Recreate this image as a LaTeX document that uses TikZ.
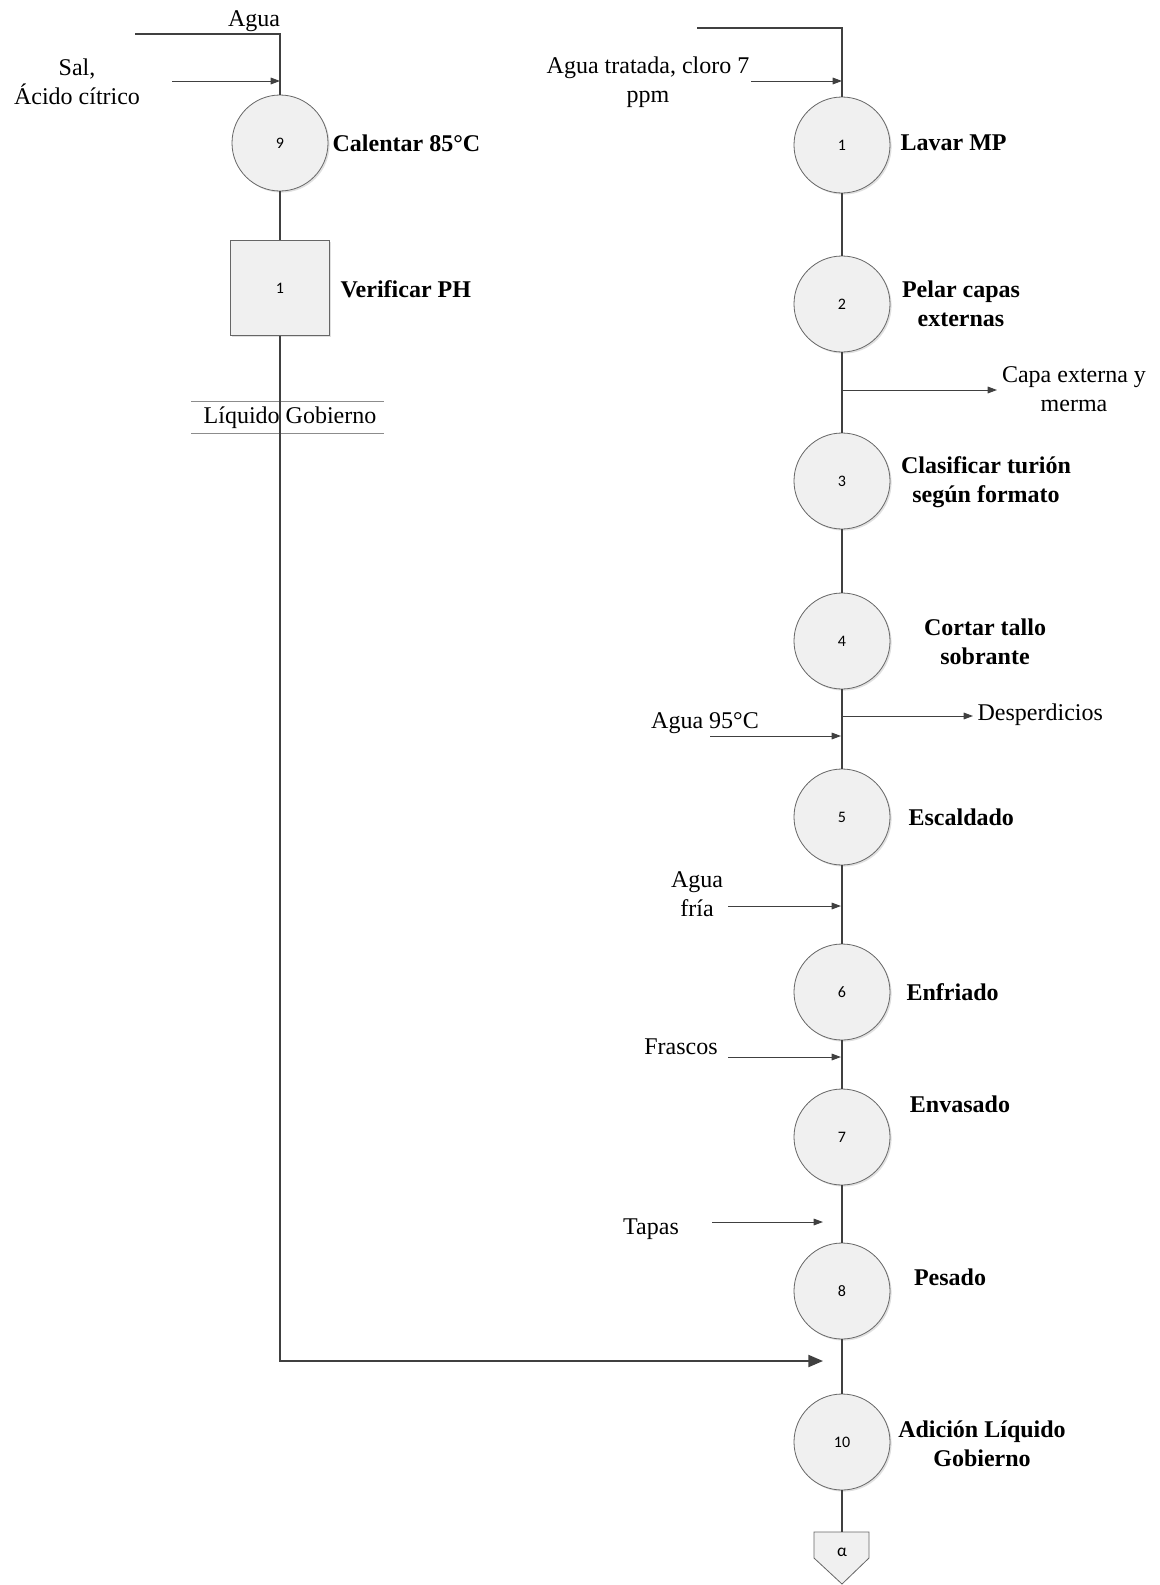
\documentclass[tikz,border=0pt]{standalone}
\usepackage{fontspec}
\setmainfont{Liberation Serif}
\newfontfamily\numfont{Carlito}
\usetikzlibrary{arrows.meta,shadows}
\begin{document}
\begin{tikzpicture}[x=0.75pt,y=-0.75pt,
  flow/.style={draw=black!75, line width=1.5pt},
  feed/.style={draw=black!75, line width=0.75pt, -{Triangle[length=7pt,width=5pt]}},
  bigfeed/.style={draw=black!75, line width=1.5pt, -{Triangle[length=11pt,width=9pt]}},
  opcircle/.style={circle, draw=black!60, line width=0.6pt, fill=black!6, minimum size=72pt, inner sep=0pt,
    font=\numfont\fontsize{12}{14}\selectfont,
    drop shadow={shadow xshift=1.2pt, shadow yshift=-1.2pt, fill=black!12, opacity=1}},
  inspbox/.style={rectangle, draw=black!60, line width=0.6pt, fill=black!6, minimum width=74pt, minimum height=71pt,
    inner sep=0pt, font=\numfont\fontsize{12}{14}\selectfont,
    drop shadow={shadow xshift=1.2pt, shadow yshift=-1.2pt, fill=black!12, opacity=1}},
  steplabel/.style={font=\bfseries\fontsize{18}{22}\selectfont, align=center, inner sep=1pt},
  txt/.style={font=\fontsize{18}{22}\selectfont, align=center, inner sep=1pt},
  thinrule/.style={draw=black!45, line width=0.6pt}
]
\useasboundingbox[fill=white] (0,0) rectangle (1160,1585);

% ---------- left column: brine preparation ----------
\node[opcircle] (c9) at (280,143) {9};
\node[inspbox] (chk) at (280,288) {1};
\node[steplabel, anchor=west] (l9) at (331,143) {Calentar 85°C};
\node[steplabel, anchor=west] (lchk) at (339,289) {Verificar PH};

\node[txt] (tagua) at (254,21) {Agua};
\node[txt] (tsal) at (77,82) {Sal,\\Ácido cítrico};

\coordinate (aguaL) at (135,34);
\coordinate (salStart) at (172,81);
\coordinate (salEnd) at (280,81);

\draw[flow] (aguaL) -| (c9.north);
\draw[feed] (salStart) -- (salEnd);
\draw[flow] (c9.south) -- (chk.north);

% brine label between two rules
\node[txt] (tliq) at (290,418) {Líquido Gobierno};
\coordinate (ruleA1) at (191,401);
\coordinate (ruleA2) at (384,401);
\coordinate (ruleB1) at (191,433);
\coordinate (ruleB2) at (384,433);
\draw[thinrule] (ruleA1) -- (ruleA2);
\draw[thinrule] (ruleB1) -- (ruleB2);

% ---------- right column: asparagus processing ----------
\node[opcircle] (c1) at (842,145) {1};
\node[opcircle] (c2) at (842,304) {2};
\node[opcircle] (c3) at (842,481) {3};
\node[opcircle] (c4) at (842,641) {4};
\node[opcircle] (c5) at (842,817) {5};
\node[opcircle] (c6) at (842,992) {6};
\node[opcircle] (c7) at (842,1137) {7};
\node[opcircle] (c8) at (842,1291) {8};
\node[opcircle] (c10) at (842,1442) {10};

% connector symbol
\coordinate (pentTop) at (842,1532);
\draw[draw=black!60, line width=0.6pt, fill=black!6]
  (814,1532) -- (869,1532) -- (869,1558) -- (842,1584) -- (814,1558) -- cycle;
\node[font=\numfont\fontsize{13}{15}\selectfont, inner sep=0pt] (alpha) at (842,1552) {α};

% step labels
\node[steplabel, anchor=west] (l1) at (899,143) {Lavar MP};
\node[steplabel] (l2) at (961,304) {Pelar capas\\externas};
\node[steplabel] (l3) at (986,482) {Clasificar turión\\según formato};
\node[steplabel] (l4) at (985,642) {Cortar tallo\\sobrante};
\node[steplabel, anchor=west] (l5) at (907,817) {Escaldado};
\node[steplabel, anchor=west] (l6) at (905,992) {Enfriado};
\node[steplabel] (l7) at (960,1104) {Envasado};
\node[steplabel] (l8) at (950,1277) {Pesado};
\node[steplabel] (l10) at (982,1444) {Adición Líquido\\Gobierno};

% inputs and outputs
\node[txt] (tclor) at (648,82) {Agua tratada, cloro 7\\ppm};
\node[txt] (tcapa) at (1074,389) {Capa externa y\\merma};
\node[txt, anchor=west] (tdesp) at (976,715) {Desperdicios};
\node[txt] (t95) at (705,723) {Agua 95°C};
\node[txt] (tfria) at (697,894) {Agua\\fría};
\node[txt] (tfras) at (681,1047) {Frascos};
\node[txt] (ttap) at (651,1229) {Tapas};

\coordinate (aguaR) at (697,28);
\coordinate (clorStart) at (751,81);
\coordinate (clorEnd) at (842,81);
\coordinate (capaStart) at (842,390);
\coordinate (capaEnd) at (997,390);
\coordinate (despStart) at (842,716);
\coordinate (despEnd) at (973,716);
\coordinate (c95Start) at (710,736);
\coordinate (c95End) at (841,736);
\coordinate (friaStart) at (728,906);
\coordinate (friaEnd) at (841,906);
\coordinate (frasStart) at (728,1057);
\coordinate (frasEnd) at (841,1057);
\coordinate (tapStart) at (712,1222);
\coordinate (tapEnd) at (823,1222);
\coordinate (mergeEnd) at (823,1361);

% main flow
\draw[flow] (aguaR) -| (c1.north);
\draw[flow] (c1.south) -- (c2.north);
\draw[flow] (c2.south) -- (c3.north);
\draw[flow] (c3.south) -- (c4.north);
\draw[flow] (c4.south) -- (c5.north);
\draw[flow] (c5.south) -- (c6.north);
\draw[flow] (c6.south) -- (c7.north);
\draw[flow] (c7.south) -- (c8.north);
\draw[flow] (c8.south) -- (c10.north);
\draw[flow] (c10.south) -- (pentTop);

\draw[feed] (clorStart) -- (clorEnd);
\draw[feed] (capaStart) -- (capaEnd);
\draw[feed] (despStart) -- (despEnd);
\draw[feed] (c95Start) -- (c95End);
\draw[feed] (friaStart) -- (friaEnd);
\draw[feed] (frasStart) -- (frasEnd);
\draw[feed] (tapStart) -- (tapEnd);

% brine line joining the main flow
\draw[bigfeed] (chk.south) |- (mergeEnd);
\end{tikzpicture}
\end{document}
